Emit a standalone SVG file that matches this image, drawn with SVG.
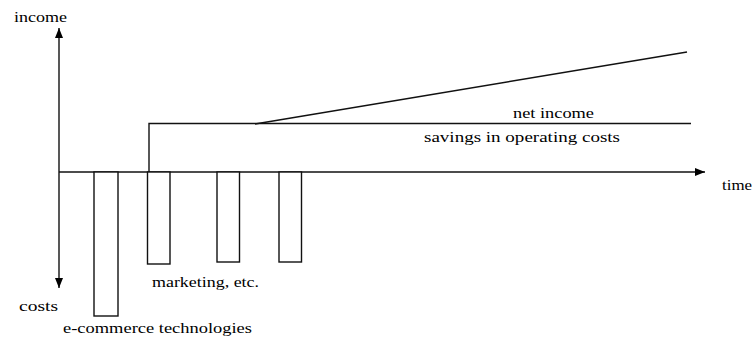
<svg xmlns="http://www.w3.org/2000/svg" width="752" height="343" viewBox="0 0 752 343">
<style>
.ln{stroke:#111;stroke-width:1.4;fill:none}
.bar{stroke:#111;stroke-width:1.4;fill:#fff}
</style>
<defs>
<marker id="ah" markerWidth="10" markerHeight="8" refX="10" refY="4" orient="auto" markerUnits="userSpaceOnUse">
<path d="M0,0 L10,4 L0,8 Z" fill="#000"/>
</marker>
</defs>
<rect width="752" height="343" fill="#fff"/>
<g id="connectors">
<line class="ln" x1="59" y1="172" x2="59" y2="28" marker-end="url(#ah)"/>
<line class="ln" x1="59" y1="172" x2="59" y2="288" marker-end="url(#ah)"/>
<line class="ln" x1="59" y1="172" x2="705" y2="172" marker-end="url(#ah)"/>
<polyline class="ln" points="149,172 149,123.5 691,123.5"/>
<line class="ln" x1="255" y1="124" x2="687" y2="52"/>
</g>
<g id="bar-ecommerce"><rect class="bar" x="94" y="172" width="24" height="144"/></g>
<g id="bar-marketing1"><rect class="bar" x="147.5" y="172" width="22.5" height="92"/></g>
<g id="bar-marketing2"><rect class="bar" x="217" y="172" width="22.5" height="90"/></g>
<g id="bar-marketing3"><rect class="bar" x="279" y="172" width="22.5" height="90"/></g>
<g id="labels">
<text font-family="Liberation Serif, serif" font-size="15" x="14" y="22" textLength="53" lengthAdjust="spacingAndGlyphs">income</text>
<text font-family="Liberation Serif, serif" font-size="15" x="19" y="311" textLength="39" lengthAdjust="spacingAndGlyphs">costs</text>
<text font-family="Liberation Serif, serif" font-size="15" x="63" y="333" textLength="189" lengthAdjust="spacingAndGlyphs">e-commerce technologies</text>
<text font-family="Liberation Serif, serif" font-size="15" x="152" y="287" textLength="107" lengthAdjust="spacingAndGlyphs">marketing, etc.</text>
<text font-family="Liberation Serif, serif" font-size="15" x="513" y="118" textLength="81" lengthAdjust="spacingAndGlyphs">net income</text>
<text font-family="Liberation Serif, serif" font-size="15" x="424" y="142" textLength="196" lengthAdjust="spacingAndGlyphs">savings in operating costs</text>
<text font-family="Liberation Serif, serif" font-size="15" x="722" y="190" textLength="30" lengthAdjust="spacingAndGlyphs">time</text>
</g>
</svg>
